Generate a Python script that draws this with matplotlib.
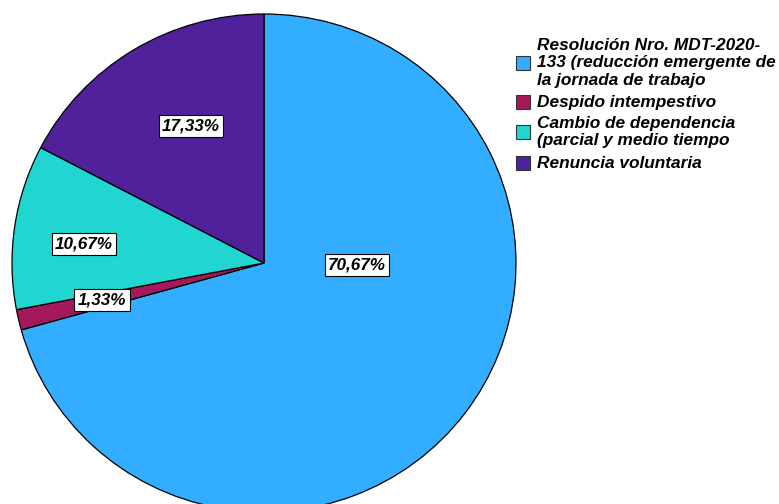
import matplotlib
matplotlib.use('Agg')
import matplotlib.pyplot as plt
from matplotlib.patches import Rectangle

# data
labels = ["Resolución Nro. MDT-2020-\n133 (reducción emergente de\nla jornada de trabajo",
          "Despido intempestivo",
          "Cambio de dependencia\n(parcial y medio tiempo",
          "Renuncia voluntaria"]
shares = [70.67, 1.33, 10.67, 17.33]
pct_text = ["70,67%", "1,33%", "10,67%", "17,33%"]
colors = ["#33adff", "#a3195b", "#21d6d1", "#50219a"]

W, H = 779, 504
fig = plt.figure(figsize=(W / 100, H / 100), dpi=100)

# pie centre (264, 263) px, slightly wider than tall, bottom runs off the figure
cx, cy, rx, ry = 264, 263, 252, 249
ax = fig.add_axes([(cx - rx) / W, (H - cy - ry) / H, 2 * rx / W, 2 * ry / H])
ax.pie(shares, colors=colors, startangle=90, counterclock=False, radius=1,
       wedgeprops=dict(edgecolor='black', linewidth=0.9))
ax.set_aspect('auto')
ax.set_xlim(-1, 1)
ax.set_ylim(-1, 1)
ax.axis('off')

# percentage labels (SPSS-style boxes)
label_pos = [(0.369, -0.008), (-0.643, -0.149), (-0.714, 0.076), (-0.290, 0.550)]
for txt, (x, y) in zip(pct_text, label_pos):
    ax.text(x, y, txt, ha='center', va='center', fontsize=12.3,
            family='Liberation Sans', weight='bold', style='italic',
            bbox=dict(boxstyle='square,pad=0.2', facecolor='white',
                      edgecolor='black', linewidth=0.8))

# legend, drawn by hand so it can run off the right edge like the original
entry_y = [63, 102, 132, 163]
for lab, col, y in zip(labels, colors, entry_y):
    fig.patches.append(Rectangle((516 / W, (H - y - 7) / H), 14 / W, 14 / H,
                                 transform=fig.transFigure, facecolor=col,
                                 edgecolor='#333333', linewidth=0.8))
    fig.text(537 / W, (H - y) / H, lab, ha='left', va='center', fontsize=12.4,
             family='Liberation Sans', weight='bold', style='italic',
             linespacing=1.2)

fig.savefig('out.png', dpi=100)
